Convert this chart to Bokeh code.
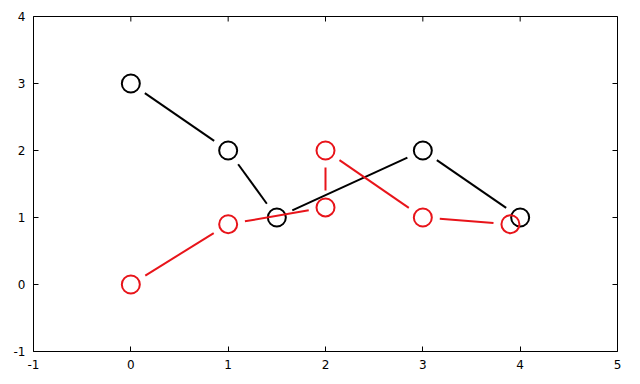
import numpy as np
from bokeh.plotting import figure
from bokeh.models import Range1d, FixedTicker
from bokeh.embed import file_html
from bokeh.resources import INLINE

black_x = [0, 1, 1.5, 3, 4]
black_y = [3, 2, 1, 2, 1]
red_x = [0, 1, 2, 2, 3, 3.9]
red_y = [0, 0.9, 1.15, 2, 1, 0.9]

x_ticks = [-1, 0, 1, 2, 3, 4, 5]
y_ticks = [-1, 0, 1, 2, 3, 4]

W, H = 640, 384
L, R, T, B = 33, 23, 16, 33
x0, x1, y0, y1 = -1, 5, -1, 4
fw, fh = W - L - R, H - T - B
sx, sy = fw / (x1 - x0), fh / (y1 - y0)

p = figure(width=W, height=H, output_backend="svg", toolbar_location=None,
           x_range=Range1d(x0, x1), y_range=Range1d(y0, y1),
           min_border_left=L, min_border_right=R, min_border_top=T, min_border_bottom=B)
p.xgrid.visible = False
p.ygrid.visible = False
p.outline_line_color = "black"
p.outline_line_width = 1
p.background_fill_color = "white"
p.border_fill_color = "white"

font = "DejaVu Sans"
for ax, ticks in ((p.xaxis[0], x_ticks), (p.yaxis[0], y_ticks)):
    ax.ticker = FixedTicker(ticks=ticks)
    ax.major_tick_in = 5
    ax.major_tick_out = 0
    ax.minor_tick_line_color = None
    ax.axis_line_color = None
    ax.major_label_text_font = font
    ax.major_label_text_font_size = "12px"
    ax.major_label_text_color = "black"
    ax.major_label_standoff = 8
    ax.major_label_overrides = {t: str(t) for t in ticks}

# mirrored tick marks on the top and right borders (dash markers clipped by the frame)
p.scatter(x_ticks, [y1] * len(x_ticks), marker="dash", angle=np.pi / 2, size=10,
          line_color="black", line_width=1)
p.scatter([x1] * len(y_ticks), y_ticks, marker="dash", size=10,
          line_color="black", line_width=1)

GAP = 17.0

def gapped(xs, ys):
    xs0, ys0, xs1, ys1 = [], [], [], []
    for i in range(len(xs) - 1):
        ax_, ay_ = xs[i] * sx, ys[i] * sy
        bx_, by_ = xs[i + 1] * sx, ys[i + 1] * sy
        d = np.hypot(bx_ - ax_, by_ - ay_)
        if d <= 2 * GAP:
            continue
        ux, uy = (bx_ - ax_) / d, (by_ - ay_) / d
        xs0.append((ax_ + ux * GAP) / sx)
        ys0.append((ay_ + uy * GAP) / sy)
        xs1.append((bx_ - ux * GAP) / sx)
        ys1.append((by_ - uy * GAP) / sy)
    return xs0, ys0, xs1, ys1

for xs, ys, col in ((black_x, black_y, "black"), (red_x, red_y, "#e8141a")):
    a, b, c, d = gapped(xs, ys)
    p.segment(a, b, c, d, line_color=col, line_width=2)
    p.scatter(xs, ys, marker="circle", size=18, fill_color=None, line_color=col, line_width=2)

open("out.html", "w").write(file_html(p, INLINE))
